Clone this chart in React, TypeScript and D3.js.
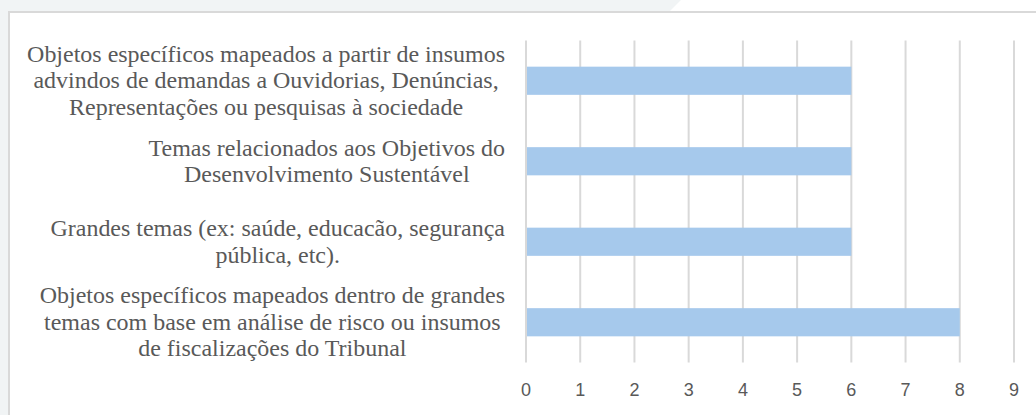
import React, { useEffect, useRef } from "react";
import * as d3 from "d3";

const categories: string[][] = [
  ["Objetos específicos mapeados a partir de insumos", "advindos de demandas a Ouvidorias, Denúncias,", "Representações ou pesquisas à sociedade"],
  ["Temas relacionados aos Objetivos do", "Desenvolvimento Sustentável"],
  ["Grandes temas (ex: saúde, educacão, segurança", "pública, etc)."],
  ["Objetos específicos mapeados dentro de grandes", "temas com base em análise de risco ou insumos", "de fiscalizações do Tribunal"],
];
const values: number[] = [6, 6, 6, 8];
const ticks: number[] = [0, 1, 2, 3, 4, 5, 6, 7, 8, 9];

const W = 1036;
const H = 415;

export default function App() {
  const ref = useRef<SVGSVGElement>(null);
  useEffect(() => {
    const svg = d3.select(ref.current);
    svg.selectAll("*").remove();

    svg.append("rect").attr("width", W).attr("height", H).attr("fill", "#f1f4f5");
    svg.append("polygon").attr("points", "681,0 1036,0 1036,11 670,11").attr("fill", "#ffffff");
    svg.append("rect").attr("x", 9).attr("y", 12).attr("width", 1040).attr("height", 420)
      .attr("fill", "#ffffff").attr("stroke", "#d9d9d9").attr("stroke-width", 2);

    const x = d3.scaleLinear().domain([0, 9]).range([526, 1014]);
    const idx = categories.map((_, i) => i);
    const y = d3.scaleBand<number>().domain(idx).range([40.5, 362.5]).paddingInner(0.65).paddingOuter(0.325);

    svg.append("g").selectAll("line").data(ticks).join("line")
      .attr("x1", (d) => x(d)).attr("x2", (d) => x(d))
      .attr("y1", 40.5).attr("y2", 362.5)
      .attr("stroke", "#d9d9d9").attr("stroke-width", 2);

    svg.append("g").selectAll("rect").data(values).join("rect")
      .attr("x", x(0) + 1)
      .attr("y", (_, i) => y(i)!)
      .attr("width", (d) => x(d) - x(0) - 1)
      .attr("height", y.bandwidth())
      .attr("fill", "#a6c9ec");

    svg.append("g").selectAll("text").data(ticks).join("text")
      .attr("x", (d) => x(d)).attr("y", 396)
      .attr("text-anchor", "middle")
      .attr("font-family", "'Liberation Sans', Arial, sans-serif")
      .attr("font-size", 18).attr("fill", "#595959")
      .text((d) => String(d));

    const lh = 26.5;
    const right = 505;
    const fam = "'Liberation Serif', 'Times New Roman', serif";
    // fit font size so the widest line of the first label spans the reference width
    const probe = svg.append("text").attr("font-family", fam).attr("font-size", 24).text(categories[0][0]);
    const pw = (probe.node() as SVGTextElement).getComputedTextLength();
    probe.remove();
    const fs = pw > 0 ? (24 * 478) / pw : 24;

    categories.forEach((lines, i) => {
      const cy = y(i)! + y.bandwidth() / 2;
      const g = svg.append("g");
      const texts = lines.map((ln, j) =>
        g.append("text")
          .attr("y", cy + (j - (lines.length - 1) / 2) * lh + 7.5)
          .attr("text-anchor", "middle")
          .attr("font-family", fam)
          .attr("font-size", fs).attr("fill", "#595959")
          .text(ln)
      );
      const maxW = d3.max(texts, (t) => (t.node() as SVGTextElement).getComputedTextLength()) || 0;
      texts.forEach((t) => t.attr("x", right - maxW / 2));
    });
  }, []);
  return <svg ref={ref} width={W} height={H} style={{ position: "absolute", left: 0, top: 0 }} />;
}
